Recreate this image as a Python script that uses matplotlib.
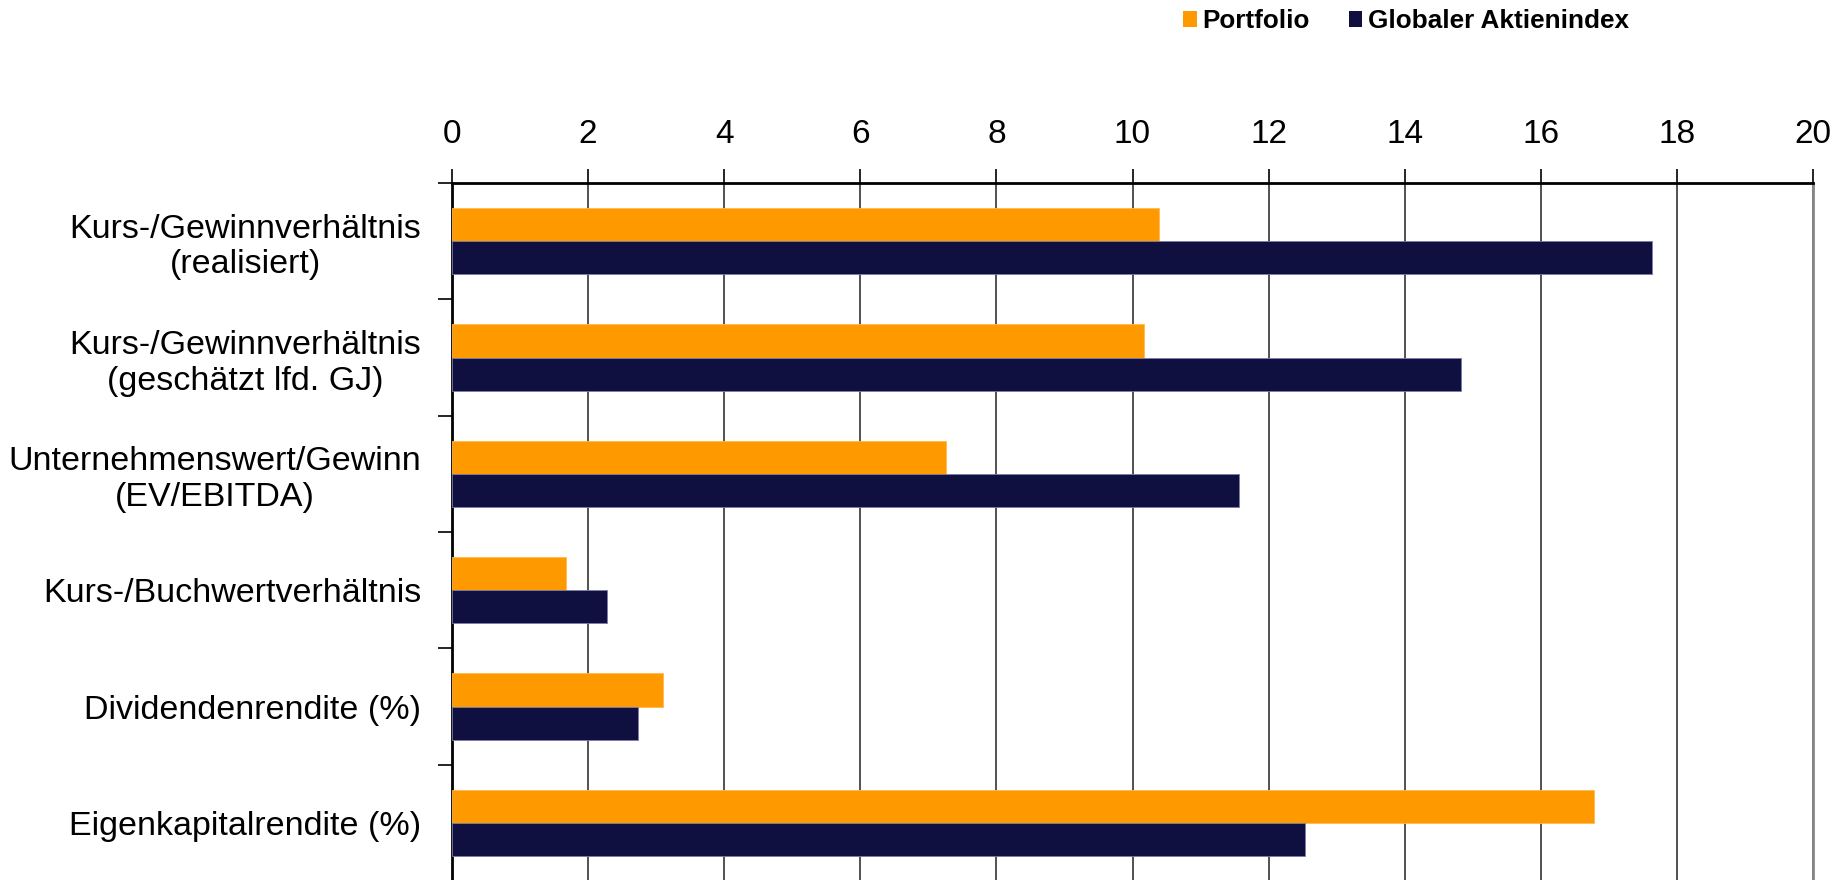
import matplotlib
matplotlib.use("Agg")
import numpy as np
import matplotlib.pyplot as plt
from matplotlib.patches import Patch

categories = [
    "Kurs-/Gewinnverhältnis\n(realisiert)",
    "Kurs-/Gewinnverhältnis\n(geschätzt lfd. GJ)",
    "Unternehmenswert/Gewinn\n(EV/EBITDA)",
    "Kurs-/Buchwertverhältnis",
    "Dividendenrendite (%)",
    "Eigenkapitalrendite (%)",
]
portfolio = [10.39, 10.17, 7.26, 1.68, 3.10, 16.78]
index_vals = [17.63, 14.82, 11.56, 2.28, 2.74, 12.54]
series_names = ["Portfolio", "Globaler Aktienindex"]
x_ticks = list(range(0, 21, 2))

ORANGE = "#FF9900"
NAVY = "#0F0F40"

plt.rcParams["font.family"] = ["Liberation Sans", "DejaVu Sans"]

fig = plt.figure(figsize=(18.48, 8.8), dpi=100)
ax = fig.add_axes([452 / 1848, 1 - 881 / 880, (1813 - 452) / 1848, 698 / 880])

pos = np.arange(len(categories)) + 0.5
h = 0.285
ax.barh(pos - h / 2, portfolio, height=h, color=ORANGE, edgecolor="#FFB84D", linewidth=0.6, zorder=3)
ax.barh(pos + h / 2, index_vals, height=h, color=NAVY, edgecolor="#7C7CA8", linewidth=0.6, zorder=3)

ax.set_xlim(0, 20)
ax.set_ylim(len(categories), 0)

ax.xaxis.tick_top()
ax.set_xticks(x_ticks)
ax.set_xticklabels([str(t) for t in x_ticks], fontsize=24)
ax.tick_params(axis="x", direction="out", length=10, width=1.2, pad=14, colors="black")
ax.grid(axis="x", color="#333333", linewidth=1.2, zorder=0)

# category boundaries carry the ticks, names sit in between
ax.set_yticks(np.arange(len(categories) + 1))
ax.set_yticklabels([])
ax.set_yticks(pos, minor=True)
ax.set_yticklabels(categories, minor=True, fontsize=24.5, linespacing=1.2, ha="right")
for lbl in ax.get_yticklabels(minor=True):
    lbl.set_multialignment("center")
ax.tick_params(axis="y", which="major", direction="out", length=10, width=1.2)
ax.tick_params(axis="y", which="minor", length=0, pad=22)

for s in ["top", "left"]:
    ax.spines[s].set_linewidth(2)
    ax.spines[s].set_color("black")
ax.spines["right"].set_color("#888888")
ax.spines["right"].set_linewidth(2)
ax.spines["bottom"].set_visible(False)

handles = [Patch(facecolor=ORANGE, edgecolor="none"), Patch(facecolor=NAVY, edgecolor="none")]
leg = fig.legend(handles, series_names, loc="center left", bbox_to_anchor=(1183 / 1848, 1 - 21 / 880),
                 ncol=2, frameon=False, handlelength=0.52, handleheight=0.6, handletextpad=0.22,
                 columnspacing=1.5, borderpad=0, borderaxespad=0,
                 prop={"weight": "bold", "size": 18.8})

fig.savefig("out.png", dpi=100)
